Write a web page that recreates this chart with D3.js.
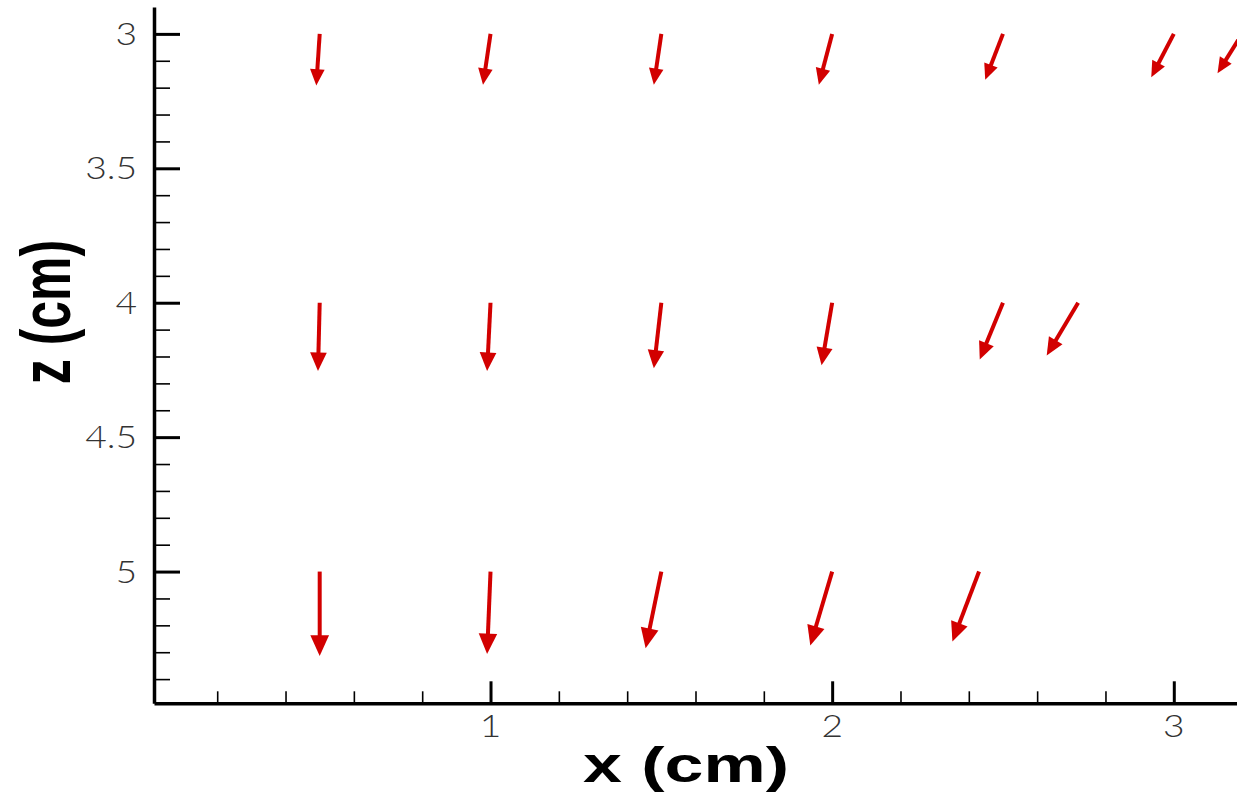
<!DOCTYPE html>
<html>
<head>
<meta charset="utf-8">
<script src="https://cdn.jsdelivr.net/npm/d3@7"></script>
<style>
  html, body { margin: 0; padding: 0; background: #fff; }
  svg { display: block; }
</style>
</head>
<body>
<svg id="chart" width="1237" height="792"></svg>
<script>
// Velocity vectors in the x–z plane: tail position (cm) and vector components (cm on the plot).
const xTail = [0.5, 1.0, 1.5, 2.0, 2.5, 3.0, 3.2,
               0.5, 1.0, 1.5, 2.0, 2.5, 2.72,
               0.5, 1.0, 1.5, 2.0, 2.43];
const zTail = [3, 3, 3, 3, 3, 3, 3,
               4, 4, 4, 4, 4, 4,
               5, 5, 5, 5, 5];
const uComp = [-0.010, -0.022, -0.022, -0.039, -0.052, -0.066, -0.072,
               -0.005, -0.010, -0.022, -0.031, -0.068, -0.092,
                0.000, -0.010, -0.046, -0.064, -0.078];
const wComp = [0.192, 0.189, 0.189, 0.189, 0.171, 0.161, 0.146,
               0.254, 0.254, 0.244, 0.233, 0.211, 0.196,
               0.314, 0.307, 0.285, 0.275, 0.260];

const xMajor = [1, 2, 3];
const xMinor = [0.2, 0.4, 0.6, 0.8, 1.2, 1.4, 1.6, 1.8, 2.2, 2.4, 2.6, 2.8];
const zMajor = [3, 3.5, 4, 4.5, 5];
const zMinor = [3.1, 3.2, 3.3, 3.4, 3.6, 3.7, 3.8, 3.9, 4.1, 4.2, 4.3, 4.4,
                4.6, 4.7, 4.8, 4.9, 5.1, 5.2, 5.3, 5.4];
const xTickLabels = ["1", "2", "3"];
const zTickLabels = ["3", "3.5", "4", "4.5", "5"];

const svg = d3.select("#chart");
const W = 1237;

const x = d3.scaleLinear().domain([0.015, 3.185]).range([154, W]);
const z = d3.scaleLinear().domain([2.9, 5.49]).range([7, 703.3]); // depth increases downward

const red = "#d20000";
const titleFont = "'Liberation Sans', Arial, sans-serif";
const tickFont = "Lato, 'Liberation Sans', Arial, sans-serif";

// ---- vectors ----
const plot = svg.append("g");
const vecs = xTail.map((xt, i) => ({ xt, zt: zTail[i], u: uComp[i], w: wComp[i] }));

vecs.forEach(d => {
  const x0 = x(d.xt), y0 = z(d.zt);
  const x1 = x(d.xt + d.u), y1 = z(d.zt + d.w);
  const dx = x1 - x0, dy = y1 - y0;
  const L = Math.hypot(dx, dy);
  const ux = dx / L, uy = dy / L;
  const hl = 9 + 0.14 * L;      // head length
  const hw = 0.45 * hl;         // half head width
  const bx = x1 - ux * hl, by = y1 - uy * hl;
  plot.append("line")
    .attr("x1", x0).attr("y1", y0)
    .attr("x2", bx + ux * 1).attr("y2", by + uy * 1)
    .attr("stroke", red).attr("stroke-width", 4);
  plot.append("path")
    .attr("d", `M${x1},${y1}L${bx - uy * hw},${by + ux * hw}L${bx + uy * hw},${by - ux * hw}Z`)
    .attr("fill", red);
});

// ---- axes ----
const yAxisX = x.range()[0];
const xAxisY = z.range()[1];

// y axis: inward ticks
const gy = svg.append("g").attr("transform", `translate(${yAxisX},0)`);
gy.call(d3.axisLeft(z).tickValues(zMajor).tickSizeInner(-26).tickSizeOuter(0).tickFormat(""))
  .call(g => g.select(".domain").attr("stroke", "#000").attr("stroke-width", 3.5))
  .call(g => g.selectAll(".tick line").attr("stroke", "#000").attr("stroke-width", 3));
gy.append("g").call(d3.axisLeft(z).tickValues(zMinor).tickSizeInner(-16).tickSizeOuter(0).tickFormat(""))
  .call(g => g.select(".domain").remove())
  .call(g => g.selectAll(".tick line").attr("stroke", "#000").attr("stroke-width", 1.6));

// x axis: inward ticks
const gx = svg.append("g").attr("transform", `translate(0,${xAxisY})`);
gx.call(d3.axisBottom(x).tickValues(xMajor).tickSizeInner(-22).tickSizeOuter(0).tickFormat(""))
  .call(g => g.select(".domain").attr("stroke", "#000").attr("stroke-width", 3.5))
  .call(g => g.selectAll(".tick line").attr("stroke", "#000").attr("stroke-width", 3));
gx.append("g").call(d3.axisBottom(x).tickValues(xMinor).tickSizeInner(-12).tickSizeOuter(0).tickFormat(""))
  .call(g => g.select(".domain").remove())
  .call(g => g.selectAll(".tick line").attr("stroke", "#000").attr("stroke-width", 1.6));

// tick labels
zMajor.forEach((v, i) => {
  svg.append("text")
    .attr("transform", `translate(${yAxisX - 17},${z(v) + 11}) scale(1.2,1)`)
    .attr("text-anchor", "end")
    .attr("font-family", tickFont)
    .attr("font-weight", 300)
    .attr("font-size", 31)
    .attr("fill", "#333")
    .text(zTickLabels[i]);
});
xMajor.forEach((v, i) => {
  svg.append("text")
    .attr("transform", `translate(${x(v)},${xAxisY + 34}) scale(1.2,1)`)
    .attr("text-anchor", "middle")
    .attr("font-family", tickFont)
    .attr("font-weight", 300)
    .attr("font-size", 31)
    .attr("fill", "#333")
    .text(xTickLabels[i]);
});

// axis titles
svg.append("text")
  .attr("transform", "translate(686,782) scale(1.4,1)")
  .attr("text-anchor", "middle")
  .attr("font-family", titleFont)
  .attr("font-weight", "bold")
  .attr("font-size", 50)
  .attr("fill", "#000")
  .text("x (cm)");

svg.append("text")
  .attr("transform", "translate(70,312) scale(1.4,1) rotate(-90)")
  .attr("text-anchor", "middle")
  .attr("font-family", titleFont)
  .attr("font-weight", "bold")
  .attr("font-size", 50)
  .attr("fill", "#000")
  .text("z (cm)");
</script>
</body>
</html>
